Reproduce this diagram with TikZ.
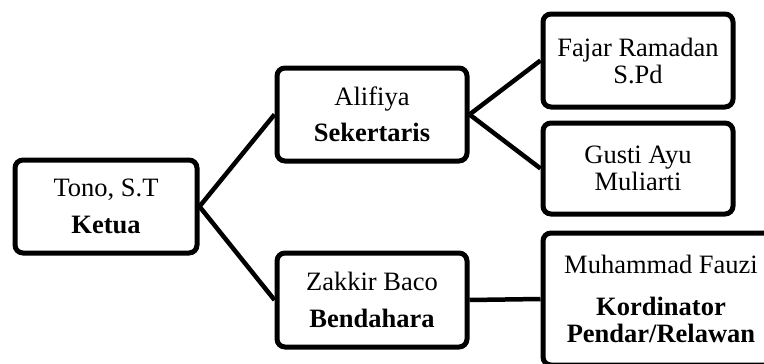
\documentclass[tikz,border=0pt]{standalone}
\usepackage{fontspec}
\setmainfont{Liberation Serif}
\begin{document}
\begin{tikzpicture}[x=1pt,y=-1pt,
  orgbox/.style={draw=black, line width=5pt, rounded corners=8pt, fill=white,
    align=center, inner sep=2pt, font=\fontsize{26.5}{27}\selectfont},
  link/.style={draw=black, line width=4.5pt}]
\useasboundingbox (0,0) rectangle (764,364);
\clip (0,0) rectangle (764,364);
\node[orgbox, minimum width=182, minimum height=93] (tono) at (106,206.5)
  {Tono, S.T\\[9.5pt]\textbf{Ketua}};
\node[orgbox, minimum width=190, minimum height=93] (alif) at (372,114.5)
  {Alifiya\\[9.5pt]\textbf{Sekertaris}};
\node[orgbox, minimum width=190, minimum height=94] (zak) at (372,300)
  {Zakkir Baco\\[9.5pt]\textbf{Bendahara}};
\node[orgbox, minimum width=190, minimum height=93] (fajar) at (638,60.5)
  {Fajar Ramadan\\S.Pd};
\node[orgbox, minimum width=190, minimum height=91] (gusti) at (638,168.5)
  {Gusti Ayu\\Muliarti};
\node[orgbox, minimum width=236, minimum height=132] (muh) at (661,299)
  {Muhammad Fauzi\\[15pt]\textbf{Kordinator}\\\textbf{Pendar/Relawan}};
\draw[link] (tono.east) -- (alif.west);
\draw[link] (tono.east) -- (zak.west);
\draw[link] (alif.east) -- (fajar.west);
\draw[link] (alif.east) -- (gusti.west);
\draw[link] (zak.east) -- (muh.west);
\end{tikzpicture}
\end{document}
